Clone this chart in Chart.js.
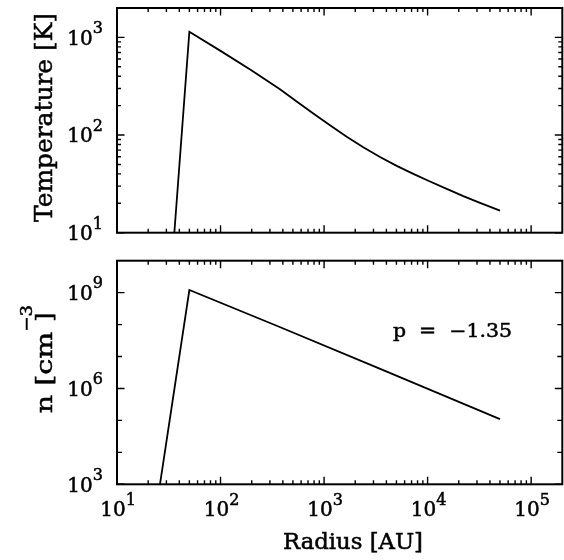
<!DOCTYPE html>
<html>
<head>
<meta charset="utf-8">
<script src="https://cdn.jsdelivr.net/npm/chart.js@4.4.1/dist/chart.umd.min.js"></script>
<style>
  html, body { margin: 0; padding: 0; background: #fff; }
  #wrap { position: relative; width: 564px; height: 560px; }
  canvas { position: absolute; left: 0; }
  #tempChart { top: 0; }
  #densChart { top: 250px; }
</style>
</head>
<body>
<div id="wrap">
  <canvas id="tempChart" width="564" height="250"></canvas>
  <canvas id="densChart" width="564" height="310"></canvas>
</div>
<script>
// values
const tempRadius = [35.8, 50, 100, 200, 375, 544, 787, 1141, 1655, 2393, 3470, 5030, 7278, 10550, 15300, 22130, 32080, 50050];
const tempValues = [10, 1144, 728, 457, 294, 221, 166, 126, 96.3, 74.9, 59.5, 48.3, 40.0, 33.4, 28.1, 23.7, 20.2, 16.8];

const densRadius = [26, 50, 373, 3440, 50000];
const densValues = [1e3, 1.21e9, 8.4e7, 4.2e6, 1.1e5];

// decade ticks and their exponent labels
const radiusTicks = [1e1, 1e2, 1e3, 1e4, 1e5];
const radiusLabels = ["1", "2", "3", "4", "5"];
const tempTicks = [1e1, 1e2, 1e3];
const tempLabels = ["1", "2", "3"];
const densTicks = [1e3, 1e6, 1e9];
const densLabels = ["3", "6", "9"];
const densMinor = [1e4, 1e5, 1e7, 1e8];

const slopeText = "p  =  \u22121.35";
const FONT = '"DejaVu Serif", serif';

function minorsOf(majors, max) {
    let out = [];
    majors.forEach(d => {
        for (let m = 2; m <= 9; m++) if (m * d < max) out.push(m * d);
    });
    return out;
}

// draw text runs (normal / superscript) with optional rotation and stretch
function drawRuns(ctx, runs, x, y, o) {
    ctx.save();
    const fonts = runs.map(r => (r[1] ? o.sup : o.size) + "px " + FONT);
    let w = 0;
    const widths = runs.map((r, i) => {
        ctx.font = fonts[i];
        let m = ctx.measureText(r[0]).width;
        w += m;
        return m;
    });
    const k = o.width ? o.width / w : 1;
    ctx.translate(x, y);
    if (o.angle) ctx.rotate(o.angle);
    ctx.scale(k, o.perp || 1);
    let cx = o.align === "center" ? -w / 2 : o.align === "right" ? -w : 0;
    ctx.textBaseline = "alphabetic";
    ctx.textAlign = "left";
    ctx.fillStyle = "#000";
    ctx.strokeStyle = "#000";
    ctx.lineWidth = 0.5;
    runs.forEach((r, i) => {
        ctx.font = fonts[i];
        ctx.fillText(r[0], cx, r[1] ? -o.rise : 0);
        ctx.strokeText(r[0], cx, r[1] ? -o.rise : 0);
        cx += widths[i];
    });
    ctx.restore();
}

const boxPlugin = {
    id: "box",
    afterDraw(chart, args, opts) {
        const ctx = chart.ctx, a = chart.chartArea;
        const xs = chart.scales.x, ys = chart.scales.y;
        ctx.save();
        ctx.strokeStyle = "#000";
        ctx.lineCap = "butt";

        ctx.lineWidth = 1.4;
        ctx.beginPath();
        const xMarks = radiusTicks.map(v => [v, 7.5]).concat(minorsOf(radiusTicks, xs.max).map(v => [v, 4]));
        xMarks.forEach(([v, len]) => {
            const px = xs.getPixelForValue(v);
            ctx.moveTo(px, a.bottom); ctx.lineTo(px, a.bottom - len);
            ctx.moveTo(px, a.top); ctx.lineTo(px, a.top + len);
        });
        opts.yMarks.forEach(([v, len]) => {
            const py = ys.getPixelForValue(v);
            ctx.moveTo(a.left, py); ctx.lineTo(a.left + len, py);
            ctx.moveTo(a.right, py); ctx.lineTo(a.right - len, py);
        });
        ctx.stroke();

        ctx.lineWidth = 2;
        ctx.strokeRect(a.left, a.top, a.right - a.left, a.bottom - a.top);
        ctx.restore();

        const tickFont = { size: 20, sup: 16, rise: 11.5, perp: 1.0 };
        opts.yTicks.forEach((v, i) => {
            const py = ys.getPixelForValue(v);
            drawRuns(ctx, [["10"], [opts.yLabels[i], true]], a.left - 14, py + 7.3,
                Object.assign({ align: "right" }, tickFont));
        });
        if (opts.xLabels) {
            radiusTicks.forEach((v, i) => {
                const px = xs.getPixelForValue(v);
                drawRuns(ctx, [["10"], [radiusLabels[i], true]], px + 1, a.bottom + 31.7,
                    Object.assign({ align: "center" }, tickFont));
            });
        }
        if (opts.extra) opts.extra(ctx, a);
    }
};

function makeChart(id, xData, yData, yMin, yMax, pad, box) {
    const pts = xData.map((x, i) => ({ x: x, y: yData[i] }));
    return new Chart(document.getElementById(id), {
        type: "line",
        data: {
            datasets: [{
                data: pts,
                borderColor: "#000",
                borderWidth: 1.8,
                pointRadius: 0,
                tension: 0,
                fill: false
            }]
        },
        options: {
            responsive: false,
            animation: false,
            devicePixelRatio: 1,
            layout: { padding: pad },
            scales: {
                x: { type: "logarithmic", min: 10, max: 2e5, display: false },
                y: { type: "logarithmic", min: yMin, max: yMax, display: false }
            },
            plugins: {
                legend: { display: false },
                tooltip: { enabled: false },
                box: box
            }
        },
        plugins: [boxPlugin]
    });
}

makeChart("tempChart", tempRadius, tempValues, 10, 2000,
    { left: 117, right: 1.7, top: 8, bottom: 17.3 },
    {
        yTicks: tempTicks,
        yLabels: tempLabels,
        yMarks: tempTicks.map(v => [v, 7.5]).concat(minorsOf(tempTicks, 2000).map(v => [v, 4])),
        xLabels: false,
        extra(ctx, a) {
            drawRuns(ctx, [["Temperature [K]"]], 51.5, 222,
                { size: 24, angle: -Math.PI / 2, perp: 1.0, width: 209, align: "left" });
        }
    });

makeChart("densChart", densRadius, densValues, 1e3, 1e10,
    { left: 117, right: 1.7, top: 10.7, bottom: 75.7 },
    {
        yTicks: densTicks,
        yLabels: densLabels,
        yMarks: densTicks.map(v => [v, 7.5]).concat(densMinor.map(v => [v, 5])),
        xLabels: true,
        extra(ctx, a) {
            drawRuns(ctx, [["Radius [AU]"]], 353, 299,
                { size: 21.5, width: 140, align: "center" });
            drawRuns(ctx, [[slopeText]], 393, 86.7,
                { size: 18, width: 119, align: "left" });
            drawRuns(ctx, [["n [cm"]], 52, 163.3,
                { size: 23, angle: -Math.PI / 2, perp: 1.0, width: 81.6, align: "left" });
            drawRuns(ctx, [["\u22123"]], 31.5, 81.7,
                { size: 17, angle: -Math.PI / 2, perp: 1.0, width: 26.7, align: "left" });
            drawRuns(ctx, [["]"]], 52, 71.7,
                { size: 23, angle: -Math.PI / 2, perp: 1.0, align: "left" });
        }
    });
</script>
</body>
</html>
